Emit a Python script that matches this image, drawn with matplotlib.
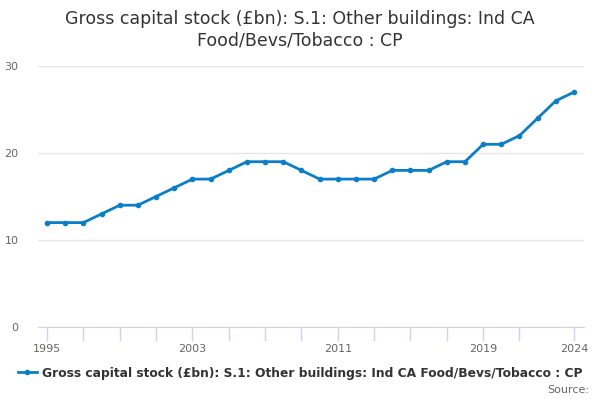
import matplotlib
matplotlib.use("Agg")
import matplotlib.pyplot as plt
from matplotlib.lines import Line2D

years = list(range(1995, 2025))
values = [12, 12, 12, 13, 14, 14, 15, 16, 17, 17, 18, 19, 19, 19, 18,
          17, 17, 17, 17, 18, 18, 18, 19, 19, 21, 21, 22, 24, 26, 27]
tick_years = list(range(1995, 2022, 2)) + [2024]
label_years = [1995, 2003, 2011, 2019, 2024]
yticks = [0, 10, 20, 30]
title = "Gross capital stock (£bn): S.1: Other buildings: Ind CA\nFood/Bevs/Tobacco : CP"
series_name = "Gross capital stock (£bn): S.1: Other buildings: Ind CA Food/Bevs/Tobacco : CP"

plt.rcParams['font.family'] = ['DejaVu Sans']
fig = plt.figure(figsize=(6, 4), dpi=100)
ax = fig.add_axes([38/600, 73/400, 546/600, 261/400])

color = "#0a7fc7"
ax.plot(years, values, color=color, lw=2, marker='o', ms=3, zorder=3)

ax.set_xlim(1994.5, 2024.55)
ax.set_ylim(0, 30)
ax.set_yticks(yticks)
ax.set_yticklabels([str(v) for v in yticks])
ax.set_xticks(tick_years)
ax.set_xticklabels([str(y) if y in label_years else "" for y in tick_years])
ax.grid(axis='y', color='#e6e6e6', lw=1)
ax.set_axisbelow(True)
for s in ['top', 'right', 'left']:
    ax.spines[s].set_visible(False)
ax.spines['bottom'].set_color('#ccd6eb')
ax.tick_params(axis='x', colors='#ccd6eb', length=10, width=1, labelcolor='#666666', labelsize=8, pad=2)
ax.tick_params(axis='y', length=0, labelcolor='#666666', labelsize=8, pad=14)

fig.text(0.5, 0.975, title, ha='center', va='top', fontsize=12.5, color='#333333', linespacing=1.25)

handle = Line2D([], [], color=color, lw=2, marker='o', ms=3)
fig.legend([handle], [series_name], loc='center', bbox_to_anchor=(0.5, 0.067), frameon=False,
           prop={'weight': 'bold', 'size': 8.8}, labelcolor='#333333', handlelength=1.6, handletextpad=0.4)
fig.text(0.982, 0.025, "Source:", ha='right', va='center', fontsize=8, color='#666666')

fig.savefig("out.png", dpi=100)
